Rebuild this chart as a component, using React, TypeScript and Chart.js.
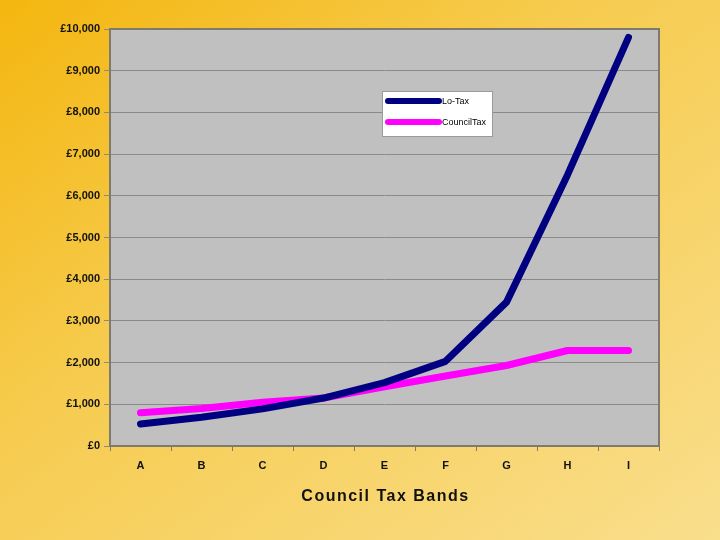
import React, { useEffect, useRef } from "react";
import { Chart, registerables } from "chart.js";

Chart.register(...registerables);

const bands: string[] = ["A", "B", "C", "D", "E", "F", "G", "H", "I"];
const loTax: number[] = [530, 690, 890, 1150, 1520, 2030, 3450, 6500, 9800];
const councilTax: number[] = [800, 900, 1050, 1150, 1420, 1680, 1930, 2290, 2290];
const seriesNames: string[] = ["Lo-Tax", "CouncilTax"];
const seriesColors: string[] = ["#000080", "#FF00FF"];
const axisTitle = "Council Tax Bands";

const FONT = "'Liberation Sans', Arial, sans-serif";

const bgPlugin = {
  id: "plotBg",
  beforeDraw(chart: any) {
    const { ctx, chartArea: a } = chart;
    ctx.save();
    ctx.fillStyle = "#C0C0C0";
    ctx.fillRect(a.left, a.top, a.right - a.left, a.bottom - a.top);
    ctx.restore();
  },
  afterDraw(chart: any) {
    const { ctx, chartArea: a } = chart;
    ctx.save();
    ctx.strokeStyle = "#7F7A6E";
    ctx.lineWidth = 2;
    ctx.strokeRect(a.left, a.top, a.right - a.left, a.bottom - a.top);
    // legend box
    const lx = 382, ly = 91, lw = 110, lh = 45;
    ctx.fillStyle = "#FFFFFF";
    ctx.fillRect(lx, ly, lw, lh);
    ctx.strokeStyle = "#9A9A9A";
    ctx.lineWidth = 1;
    ctx.strokeRect(lx + 0.5, ly + 0.5, lw, lh);
    ctx.font = `9px ${FONT}`;
    ctx.textBaseline = "middle";
    ctx.lineCap = "round";
    seriesNames.forEach((name, i) => {
      const y = ly + 10 + i * 21;
      ctx.strokeStyle = seriesColors[i];
      ctx.lineWidth = 6;
      ctx.beginPath();
      ctx.moveTo(lx + 6, y);
      ctx.lineTo(lx + 57, y);
      ctx.stroke();
      ctx.fillStyle = "#000000";
      ctx.fillText(name, lx + 60, y + 1);
    });
    // axis title
    ctx.font = `bold 16px ${FONT}`;
    (ctx as any).letterSpacing = "1.5px";
    ctx.fillStyle = "#111111";
    ctx.textAlign = "center";
    ctx.textBaseline = "middle";
    ctx.fillText(axisTitle, (a.left + a.right) / 2 + 1, 497);
    ctx.restore();
  },
};

export default function App() {
  const ref = useRef<HTMLCanvasElement | null>(null);
  useEffect(() => {
    document.body.style.margin = "0";
    const chart = new Chart(ref.current as HTMLCanvasElement, {
      type: "line",
      data: {
        labels: bands,
        datasets: [
          {
            label: seriesNames[0],
            data: loTax,
            borderColor: seriesColors[0],
            backgroundColor: seriesColors[0],
            borderWidth: 7,
            pointRadius: 0,
            tension: 0,
            borderCapStyle: "round",
            borderJoinStyle: "round",
          },
          {
            label: seriesNames[1],
            data: councilTax,
            borderColor: seriesColors[1],
            backgroundColor: seriesColors[1],
            borderWidth: 7,
            pointRadius: 0,
            tension: 0,
            borderCapStyle: "round",
            borderJoinStyle: "round",
          },
        ],
      },
      options: {
        responsive: false,
        animation: false,
        layout: { padding: { left: 0, top: 29, right: 61, bottom: 0 } },
        plugins: { legend: { display: false }, tooltip: { enabled: false } },
        scales: {
          x: {
            offset: true,
            grid: {
              offset: true,
              drawOnChartArea: false,
              drawTicks: true,
              tickLength: 5,
              color: "#7F7A6E",
            },
            border: { display: false },
            ticks: {
              padding: 8,
              color: "#111111",
              font: { family: FONT, size: 11, weight: "bold" },
            },
            afterFit(scale: any) {
              scale.height = 94;
            },
          },
          y: {
            min: 0,
            max: 10000,
            grid: { color: "#8A8A8A", lineWidth: 1, tickLength: 6, drawTicks: true },
            border: { display: false },
            ticks: {
              stepSize: 1000,
              padding: 4,
              color: "#111111",
              font: { family: FONT, size: 11, weight: "bold" },
              callback: (v: any) => "£" + Number(v).toLocaleString("en-GB"),
            },
            afterFit(scale: any) {
              scale.width = 110;
            },
          },
        },
      },
      plugins: [bgPlugin],
    });
    return () => chart.destroy();
  }, []);
  return (
    <div
      style={{
        position: "fixed",
        left: 0,
        top: 0,
        width: 720,
        height: 540,
        background: "linear-gradient(to bottom right, #F4B60F 0%, #F6CB4E 40%, #F9DE8C 100%)",
      }}
    >
      <canvas ref={ref} width={720} height={540} />
    </div>
  );
}
